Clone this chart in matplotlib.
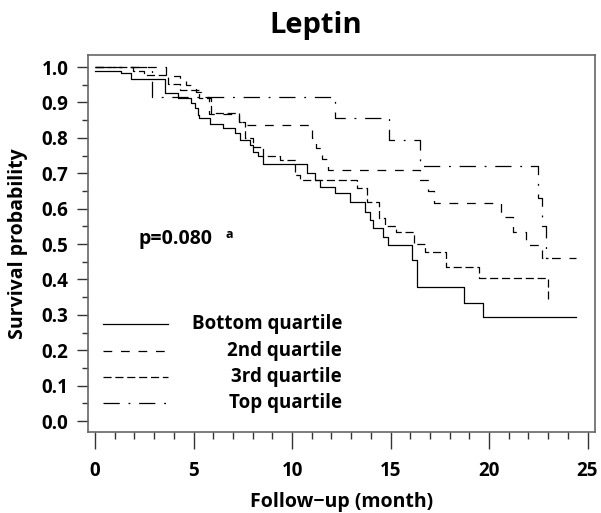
import matplotlib
matplotlib.use("Agg")
import matplotlib.pyplot as plt
from matplotlib.ticker import MultipleLocator

plt.rcParams['font.family'] = ['Open Sans', 'DejaVu Sans']
plt.rcParams['font.weight'] = 'bold'

# Kaplan-Meier steps (time in months, survival after the drop)
bottom_t = [0, 1.3, 1.8, 3.55, 4.2, 4.85, 5.05, 5.2, 5.3, 5.85, 6.5, 7.1, 7.35, 7.85, 8.0,
            8.25, 8.5, 10.75, 11.15, 11.4, 12.2, 12.95, 13.7, 13.95, 14.1, 14.6, 14.85,
            16.1, 16.35, 18.75, 19.7, 24.4]
bottom_s = [0.99, 0.983, 0.966, 0.927, 0.912, 0.898, 0.884, 0.864, 0.856, 0.84, 0.828, 0.814,
            0.794, 0.78, 0.76, 0.75, 0.726, 0.70, 0.68, 0.66, 0.644, 0.62, 0.59, 0.567, 0.545,
            0.52, 0.497, 0.455, 0.379, 0.333, 0.294, 0.294]

q2_t = [0, 3.6, 4.3, 4.6, 5.1, 5.4, 5.8, 7.3, 7.6, 11.0, 11.2, 11.5, 11.8, 16.5, 16.9,
        17.2, 20.6, 21.2, 21.9, 22.7, 24.4]
q2_s = [1.0, 0.975, 0.963, 0.95, 0.93, 0.915, 0.867, 0.845, 0.836, 0.80, 0.77, 0.74, 0.709,
        0.68, 0.65, 0.616, 0.576, 0.534, 0.497, 0.46, 0.46]

q3_t = [0, 1.9, 2.5, 3.7, 4.3, 5.3, 5.9, 7.3, 7.6, 8.0, 8.5, 9.4, 10.15, 10.4, 13.3, 13.8,
        14.4, 14.7, 15.3, 16.2, 16.75, 17.8, 19.5, 23.0, 23.1]
q3_s = [1.0, 0.99, 0.977, 0.952, 0.935, 0.912, 0.87, 0.845, 0.80, 0.775, 0.75, 0.737, 0.695,
        0.68, 0.658, 0.62, 0.573, 0.55, 0.535, 0.50, 0.477, 0.435, 0.404, 0.342, 0.342]

top_t = [0, 2.9, 12.2, 14.9, 16.5, 22.5, 22.7, 22.9, 23.0]
top_s = [1.0, 0.915, 0.856, 0.794, 0.72, 0.63, 0.55, 0.46, 0.46]

labels = ['Bottom quartile', '2nd quartile', '3rd quartile', 'Top quartile']
styles = ['-', (0, (7, 7)), (0, (6.5, 3)), (0, (13, 7, 1.5, 7))]

fig = plt.figure(figsize=(6.01, 5.13), dpi=100)
ax = fig.add_axes([88/601, 1-432/513, 507/601, 377/513])

curves = [(bottom_t, bottom_s), (q2_t, q2_s), (q3_t, q3_s), (top_t, top_s)]
for (t, s), ls in zip(curves, styles):
    ax.step(t, s, where='post', color='black', lw=0.9, linestyle=ls)

ax.set_xlim(-0.36, 25.38)
ax.set_ylim(-0.031, 1.034)

ax.xaxis.set_major_locator(MultipleLocator(5))
ax.xaxis.set_minor_locator(MultipleLocator(1))
ax.yaxis.set_major_locator(MultipleLocator(0.1))
ax.yaxis.set_minor_locator(MultipleLocator(0.05))
ax.yaxis.set_major_formatter(plt.FuncFormatter(lambda v, p: f"{v:.1f}"))
ax.tick_params(which='major', length=8, width=1, color='#333333', labelsize=13.5)
ax.tick_params(which='minor', length=4, width=1, color='#333333')
ax.tick_params(axis='x', which='major', length=12, pad=9)
ax.tick_params(axis='x', which='minor', length=5)
ax.tick_params(axis='y', pad=6)
for sp in ax.spines.values():
    sp.set_color('#666666')
    sp.set_linewidth(1.2)

ax.set_xlabel('Follow\u2212up (month)', fontsize=14, fontweight='bold', labelpad=8)
ax.set_ylabel('Survival probability', fontsize=14, fontweight='bold', labelpad=10)
fig.text(316/601, 1-25/513, 'Leptin', ha='center', va='center', fontsize=21)

ax.text(2.2, 0.50, 'p=0.080', fontsize=14, ha='left', va='baseline')
ax.text(6.6, 0.518, 'a', fontsize=9, ha='left', va='baseline')

# legend drawn by hand so the labels can be right aligned
rows = [0.2865, 0.2149, 0.1459, 0.0769]
for y, ls, lab in zip(rows, styles, labels):
    ax.plot([0.0296, 0.158], [y, y], transform=ax.transAxes, color='black', lw=0.9, linestyle=ls)
    ax.text(0.501, y, lab, transform=ax.transAxes, ha='right', va='center', fontsize=13.5)

fig.savefig('out.png', dpi=100)
